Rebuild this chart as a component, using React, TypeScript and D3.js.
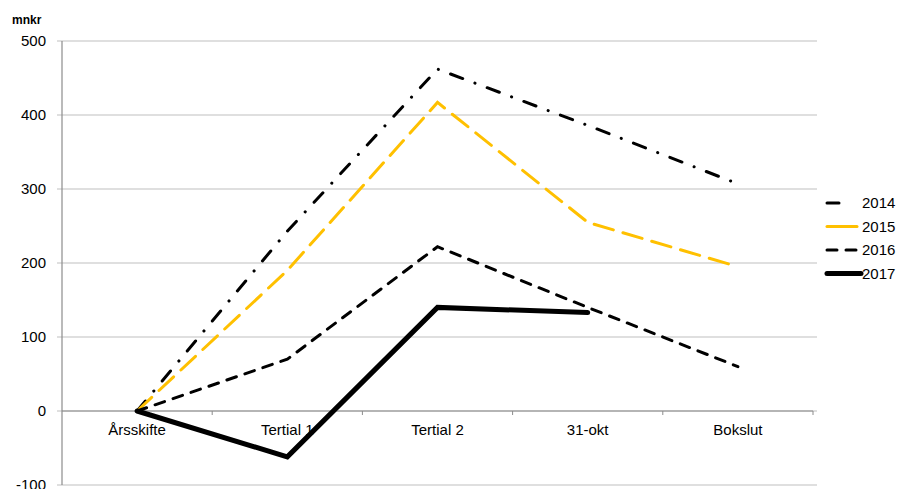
import React from "react";
import * as d3 from "d3";

const categories = ["Årsskifte", "Tertial 1", "Tertial 2", "31-okt", "Bokslut"];
const s2014 = [0, 243, 462, 386, 307];
const s2015 = [0, 190, 417, 255, 195];
const s2016 = [0, 70, 222, 140, 60];
const s2017 = [0, -62, 140, 133];
const yTicks = [-100, 0, 100, 200, 300, 400, 500];

const series = [
  { name: "2014", values: s2014, color: "#000", width: 3, dash: "13 13 0.1 13", legendDash: "12 100" },
  { name: "2015", values: s2015, color: "#FFC000", width: 3, dash: "20 10", legendDash: "" },
  { name: "2016", values: s2016, color: "#000", width: 3, dash: "10 9", legendDash: "10 9" },
  { name: "2017", values: s2017, color: "#000", width: 5, dash: "", legendDash: "" },
];

export default function App() {
  const W = 901, H = 489;
  const left = 62, right = 813, top = 41, bottom = 485;
  const x = d3.scaleBand<string>().domain(categories).range([left, right]);
  const y = d3.scaleLinear().domain([-100, 500]).range([bottom, top]);
  const cx = (i: number) => (x(categories[i]) as number) + x.bandwidth() / 2;
  const line = d3.line<number>().x((_, i) => cx(i)).y((v) => y(v));
  const font = "Arial, 'Liberation Sans', sans-serif";
  const legendX = 827, legendY0 = 203, legendStep = 23.5;
  return (
    <svg width={W} height={H} style={{ position: "absolute", left: 0, top: 0 }} fontFamily={font}>
      <rect width={W} height={H} fill="#fff" />
      {yTicks.map((t) => (
        <g key={t}>
          <line x1={left - 5} x2={right + 4} y1={y(t)} y2={y(t)} stroke="#bfbfbf" strokeWidth={1.2} />
          <text x={46} y={y(t)} dy="0.35em" textAnchor="end" fontSize={15} fill="#000">{t}</text>
        </g>
      ))}
      <line x1={left} x2={left} y1={top} y2={bottom} stroke="#8c8c8c" strokeWidth={1.2} />
      <line x1={left} x2={right} y1={y(0)} y2={y(0)} stroke="#8c8c8c" strokeWidth={1.2} />
      {categories.map((c, i) => (
        <g key={c}>
          <line x1={(x(c) as number) + x.bandwidth()} x2={(x(c) as number) + x.bandwidth()} y1={y(0)} y2={y(0) + 4} stroke="#8c8c8c" />
          <text x={cx(i)} y={y(0) + 24} textAnchor="middle" fontSize={15} fill="#000">{c}</text>
        </g>
      ))}
      <text x={12} y={24} fontSize={12} fontWeight="bold" fill="#000">mnkr</text>
      {series.map((s) => (
        <path key={s.name} d={line(s.values) || ""} fill="none" stroke={s.color} strokeWidth={s.width}
          strokeDasharray={s.dash || undefined} strokeLinecap="round" strokeLinejoin="miter" />
      ))}
      {series.map((s, i) => (
        <g key={s.name}>
          <line x1={legendX} x2={legendX + 30 + (i === 3 ? 4 : 0)} y1={legendY0 + i * legendStep} y2={legendY0 + i * legendStep}
            stroke={s.color} strokeWidth={s.width} strokeDasharray={s.legendDash || undefined} strokeLinecap="round" />
          <text x={legendX + 35} y={legendY0 + i * legendStep} dy="0.35em" fontSize={15} fill="#000">{s.name}</text>
        </g>
      ))}
    </svg>
  );
}
